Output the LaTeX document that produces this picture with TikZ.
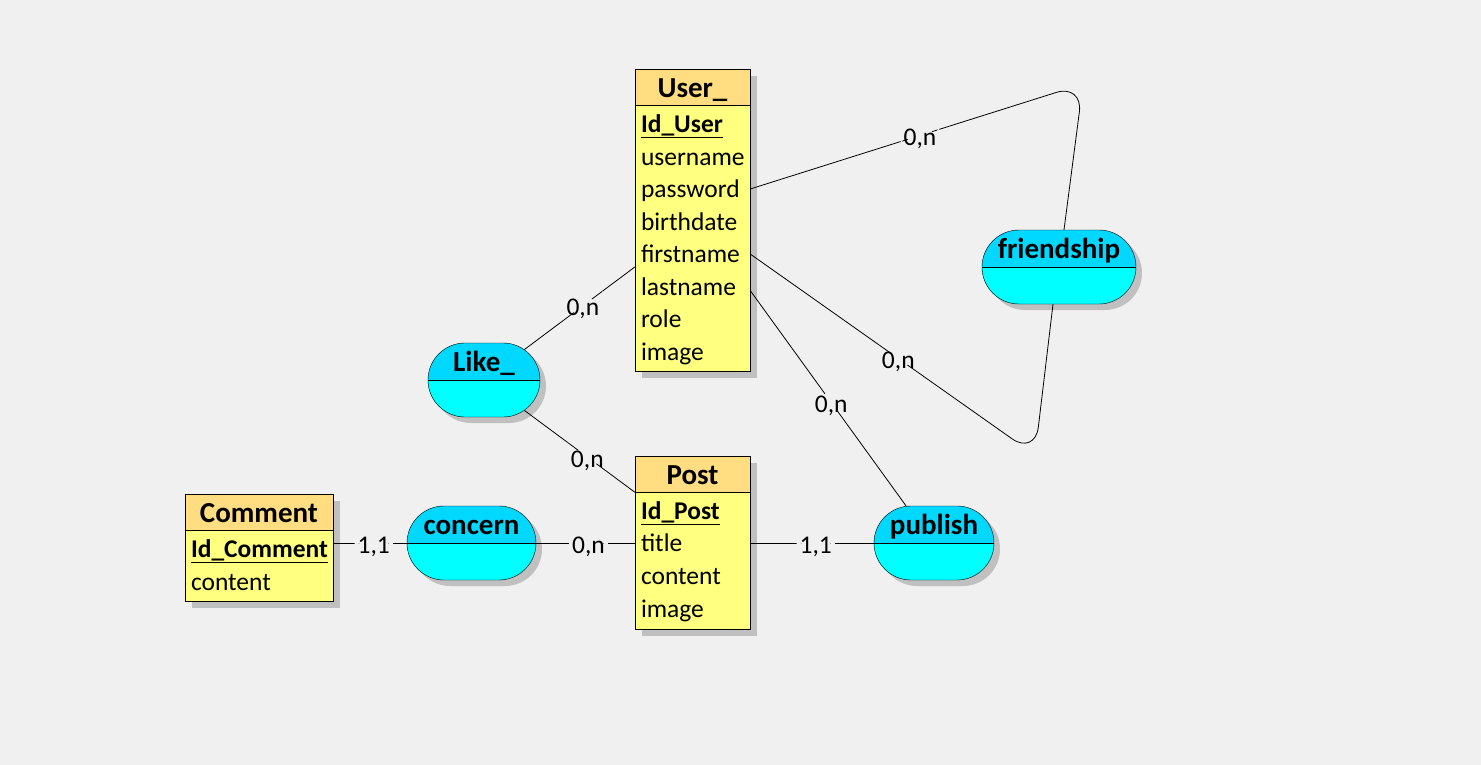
\documentclass[tikz,border=0pt]{standalone}
\usepackage{fontspec}
\newfontfamily\erfont{Carlito}
\usetikzlibrary{shapes.misc,shadows}
\definecolor{canvasgray}{HTML}{F0F0F0}
\definecolor{headorange}{HTML}{FFDD80}
\definecolor{bodyyellow}{HTML}{FFFF80}
\definecolor{reltop}{HTML}{00D8FF}
\definecolor{relbottom}{HTML}{00FFFF}
\definecolor{shadegray}{HTML}{C0C0C0}
\tikzset{
  enthead/.style={draw, fill=headorange, inner sep=0pt, minimum height=36pt,
    text height=26pt, text depth=5pt, font=\erfont\bfseries\fontsize{29}{34}\selectfont,
    drop shadow={shadow xshift=7pt, shadow yshift=-7pt, fill=shadegray, opacity=1}},
  entbody/.style={draw, fill=bodyyellow, inner sep=0pt,
    drop shadow={shadow xshift=7pt, shadow yshift=-7pt, fill=shadegray, opacity=1}},
  attr/.style={inner xsep=6pt, inner ysep=0pt, minimum height=32.5pt,
    text height=23pt, text depth=6pt, align=left, font=\erfont\fontsize{25.5}{30}\selectfont},
  relation/.style={rounded rectangle, draw, fill=reltop, minimum height=74pt, inner sep=0pt,
    path picture={
      \fill[relbottom] (path picture bounding box.west) rectangle (path picture bounding box.south east);
      \draw (path picture bounding box.west) -- (path picture bounding box.east);},
    drop shadow={shadow xshift=6pt, shadow yshift=-6pt, fill=shadegray, opacity=1}},
  reltitle/.style={inner sep=0pt, anchor=center, label distance=-18.5pt,
    text height=25pt, text depth=5pt, font=\erfont\bfseries\fontsize{29}{34}\selectfont},
  card/.style={fill=canvasgray, inner sep=3pt, text height=20pt, text depth=0pt,
    font=\erfont\fontsize{25.5}{30}\selectfont},
  link/.style={draw, line width=0.8pt, rounded corners=28pt}
}
\begin{document}
\begin{tikzpicture}[x=1pt, y=-1pt]
    \useasboundingbox (0,0) rectangle (1481,765);
    \fill[canvasgray] (0,0) rectangle (1481,765);

    % User_
    \node[enthead, minimum width=115pt] (user-h) at (692.5,87) {User\_};
    \node[entbody, minimum width=115pt, minimum height=266pt] (user-b) at (692.5,238) {};
    \node[attr, text width=103pt] (user-id) at (692.5,124) {\textbf{\underline{Id\_User}}};
    \node[attr, text width=103pt] (user-name) at (692.5,156.5) {username};
    \node[attr, text width=103pt] (user-pass) at (692.5,189) {password};
    \node[attr, text width=103pt] (user-birth) at (692.5,221.5) {birthdate};
    \node[attr, text width=103pt] (user-first) at (692.5,254) {firstname};
    \node[attr, text width=103pt] (user-last) at (692.5,286.5) {lastname};
    \node[attr, text width=103pt] (user-role) at (692.5,319) {role};
    \node[attr, text width=103pt] (user-img) at (692.5,351.5) {image};

    % Post
    \node[enthead, minimum width=115pt] (post-h) at (692.5,474) {Post};
    \node[entbody, minimum width=115pt, minimum height=137pt] (post-b) at (692.5,560.5) {};
    \node[attr, text width=103pt] (post-id) at (692.5,511) {\textbf{\underline{Id\_Post}}};
    \node[attr, text width=103pt] (post-title) at (692.5,543) {title};
    \node[attr, text width=103pt] (post-content) at (692.5,576) {content};
    \node[attr, text width=103pt] (post-img) at (692.5,608.5) {image};

    % Comment
    \node[enthead, minimum width=148pt] (comment-h) at (259,512) {Comment};
    \node[entbody, minimum width=148pt, minimum height=71pt] (comment-b) at (259,565.5) {};
    \node[attr, text width=136pt] (comment-id) at (259,549) {\textbf{\underline{Id\_Comment}}};
    \node[attr, text width=136pt] (comment-content) at (259,581.5) {content};

    % relations
    \node[relation, minimum width=112pt, label={[reltitle]north:Like\_}] (like) at (484,380) {};
    \node[relation, minimum width=154pt, label={[reltitle]north:friendship}] (friend) at (1059,267) {};
    \node[relation, minimum width=129pt, label={[reltitle]north:concern}] (concern) at (471.5,543) {};
    \node[relation, minimum width=120pt, label={[reltitle]north:publish}] (publish) at (934,543) {};

    % links
    \coordinate (fr-top) at (1083,84);
    \coordinate (fr-bot) at (1035,455);
    \draw[link] (user-pass.east) -- node[card, pos=.51] {0,n} (fr-top) -- ([xshift=5pt]friend.north);
    \draw[link] (user-first.east) -- node[card, pos=.52] {0,n} (fr-bot) -- ([xshift=-6pt]friend.south);
    \draw[link] ([yshift=-4pt]user-last.east) -- node[card, pos=.52] {0,n} ([xshift=-28pt]publish.north);
    \draw[link] ([yshift=-13pt]user-first.west) -- node[card, pos=.47] {0,n} (like.37);
    \draw[link] (like.-37) -- node[card, pos=.57] {0,n} (post-h.south west);
    \draw[link] (comment-b.east |- concern.west) -- node[card, pos=.55] {1,1} (concern.west);
    \draw[link] (concern.east) -- node[card, pos=.53] {0,n} (post-title.west);
    \draw[link] (post-title.east) -- node[card, pos=.53] {1,1} (publish.west);
\end{tikzpicture}
\end{document}
